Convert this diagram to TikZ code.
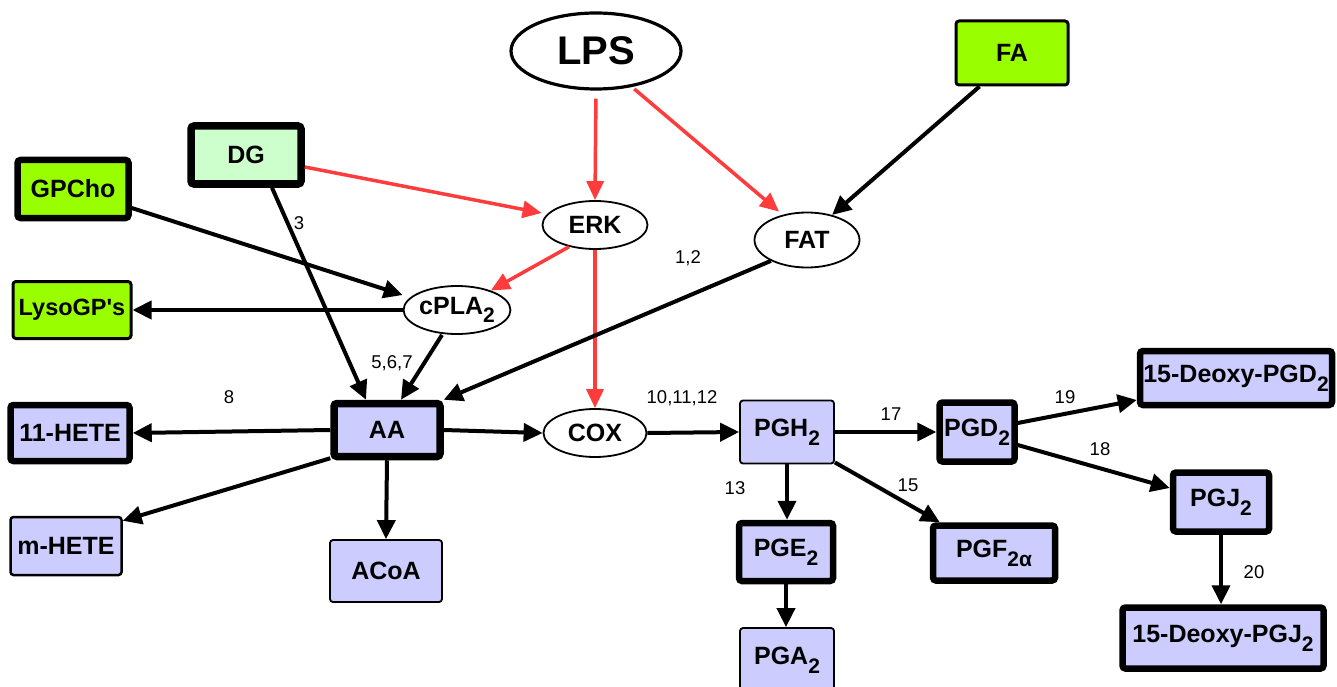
\documentclass[tikz,border=0pt]{standalone}
\usepackage{fontspec}
\setmainfont{Liberation Sans}
\usetikzlibrary{arrows.meta,shapes.geometric}
\definecolor{limeg}{HTML}{99FF00}
\definecolor{paleg}{HTML}{CCFFCC}
\definecolor{lav}{HTML}{CCCCFF}
\definecolor{redc}{HTML}{FF3B3B}
\newcommand\myNodeFont{\fontsize{25}{28}\selectfont\bfseries}
\newcommand\myLblFont{\fontsize{18.5}{20}\selectfont}
\newcommand\mySub[1]{\raisebox{-0.35em}{\fontsize{21}{23}\selectfont #1}}
\tikzset{
  box/.style={draw, rounded corners=3pt, font=\myNodeFont, inner sep=0pt, align=center},
  prod/.style={box, fill=lav},
  thinb/.style={line width=1.8pt},
  medb/.style={line width=3pt},
  fatb/.style={line width=6.5pt},
  oval/.style={draw, ellipse, fill=white, font=\myNodeFont, inner sep=0pt, line width=1.8pt},
  arr/.style={line width=4pt, -{Triangle[length=19pt,width=18pt]}},
  rarr/.style={line width=3.5pt, draw=redc, -{Triangle[length=19pt,width=17pt]}},
  lbl/.style={font=\myLblFont, inner sep=0pt}
}
\begin{document}
\begin{tikzpicture}[x=1pt,y=-1pt]
\useasboundingbox (0,0) rectangle (1337,687);
% nodes
\node[oval, line width=3.2pt, minimum width=170pt, minimum height=76pt, font=\fontsize{40}{42}\selectfont\bfseries] (LPS) at (596,51) {LPS};
\node[box, fill=limeg, medb, minimum width=112pt, minimum height=64pt] (FA) at (1012,53) {FA};
\node[box, fill=paleg, line width=7.5pt, minimum width=110pt, minimum height=58pt] (DG) at (246,155) {DG};
\node[box, fill=limeg, fatb, minimum width=111pt, minimum height=58pt] (GPCho) at (73,189) {GPCho};
\node[box, fill=limeg, medb, minimum width=118pt, minimum height=57pt, font=\fontsize{23.5}{26}\selectfont\bfseries] (Lyso) at (72,310) {LysoGP\textquotesingle s};
\node[oval, minimum width=105pt, minimum height=48pt] (ERK) at (595,225) {ERK};
\node[oval, minimum width=105pt, minimum height=55pt] (FAT) at (807,240) {FAT};
\node[oval, minimum width=105pt, minimum height=48pt] (cPLA) at (457,310) {cPLA\mySub{2}};
\node[oval, minimum width=103pt, minimum height=48pt] (COX) at (595,433) {COX};
\node[prod, line width=7.5pt, minimum width=106pt, minimum height=53pt] (AA) at (387,430) {AA};
\node[prod, fatb, minimum width=119pt, minimum height=56pt] (H11) at (70,433) {11-HETE};
\node[prod, line width=2.5pt, minimum width=111pt, minimum height=58pt] (mH) at (66,546) {m-HETE};
\node[prod, thinb, minimum width=112pt, minimum height=62pt] (ACoA) at (386,571) {ACoA};
\node[prod, thinb, minimum width=94pt, minimum height=63pt] (PGH) at (787,432) {PGH\mySub{2}};
\node[prod, fatb, minimum width=75pt, minimum height=59pt] (PGD) at (977,432) {PGD\mySub{2}};
\node[prod, fatb, minimum width=192pt, minimum height=54pt] (DPGD) at (1236,378) {15-Deoxy-PGD\mySub{2}};
\node[prod, fatb, minimum width=96pt, minimum height=59pt] (PGJ) at (1221,502) {PGJ\mySub{2}};
\node[prod, fatb, minimum width=201pt, minimum height=61pt] (DPGJ) at (1223,638) {15-Deoxy-PGJ\mySub{2}};
\node[prod, fatb, minimum width=94pt, minimum height=58pt] (PGE) at (786,552) {PGE\mySub{2}};
\node[prod, fatb, minimum width=122pt, minimum height=55pt] (PGF) at (994,553) {PGF\mySub{2α}};
\node[prod, thinb, minimum width=94pt, minimum height=64pt] (PGA) at (787,660) {PGA\mySub{2}};
% labels
\node[lbl] (l3) at (299,223) {3};
\node[lbl] (l12) at (688,258) {1,2};
\node[lbl] (l567) at (392,363) {5,6,7};
\node[lbl] (l8) at (229,397) {8};
\node[lbl] (l101112) at (682,398) {10,11,12};
\node[lbl] (l17) at (891,414) {17};
\node[lbl] (l19) at (1065,397) {19};
\node[lbl] (l18) at (1100,449) {18};
\node[lbl] (l13) at (735,488) {13};
\node[lbl] (l15) at (908,485) {15};
\node[lbl] (l20) at (1254,572) {20};
% red connectors
\draw[rarr, shorten <=8pt] (LPS.south) -- (ERK.north);
\draw[rarr, shorten <=3pt] (LPS.-45) -- ([xshift=-28pt]FAT.north);
\draw[rarr] ([yshift=-12pt]DG.east) -- ([yshift=12pt]ERK.west);
\draw[rarr] (ERK.-140) -- (cPLA.30);
\draw[rarr] (ERK.south) -- (COX.north);
% black connectors
\draw[arr] ([xshift=25pt]FA.south west) -- (FAT.45);
\draw[arr] ([yshift=-19pt]GPCho.east) -- ([yshift=15pt]cPLA.west);
\draw[arr] ([xshift=26pt]DG.south) -- ([xshift=-21pt]AA.north);
\draw[arr] (cPLA.west) -- (Lyso.east);
\draw[arr] ([xshift=-15pt]cPLA.south) -- ([xshift=14pt]AA.north);
\draw[arr] (FAT.-150) -- (AA.north east);
\draw[arr] (AA.west) -- (H11.east);
\draw[arr] (AA.east) -- (COX.west);
\draw[arr] ([yshift=2pt]AA.south west) -- ([yshift=-5pt]mH.north east);
\draw[arr] (AA.south) -- (ACoA.north);
\draw[arr] (COX.east) -- (PGH.west);
\draw[arr] (PGH.east) -- (PGD.west);
\draw[arr] (PGH.south) -- (PGH.south |- PGE.north);
\draw[arr] ([yshift=2pt]PGH.south east) -- ([xshift=10pt]PGF.north west);
\draw[arr] (PGE.south) -- (PGE.south |- PGA.north);
\draw[arr] ([yshift=9pt]PGD.east) -- ([yshift=-22pt]DPGD.west);
\draw[arr] ([yshift=-13pt]PGD.east) -- ([yshift=14pt]PGJ.west);
\draw[arr] (PGJ.south) -- (PGJ.south |- DPGJ.north);
\end{tikzpicture}
\end{document}
